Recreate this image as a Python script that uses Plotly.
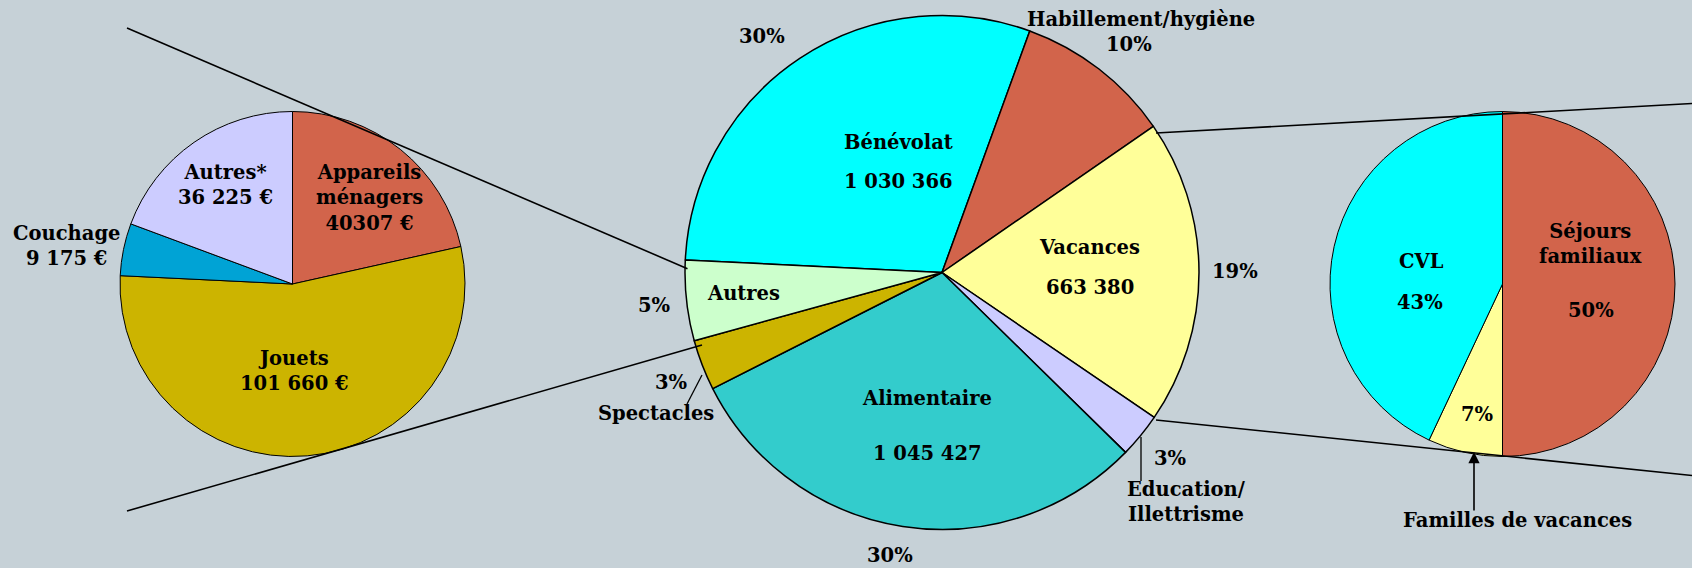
import plotly.graph_objects as go

W, H = 1692, 568
BG = "#C6D1D7"

# ---------------- data ----------------
left_names = ["Appareils<br>ménagers", "Jouets", "Couchage", "Autres*"]
left_values = [40307, 101660, 9175, 36225]
left_value_labels = ["40307 €", "101 660 €", "9 175 €", "36 225 €"]

center_names = ["Bénévolat", "Habillement/hygiène", "Vacances",
                "Education/<br>Illettrisme", "Alimentaire", "Spectacles", "Autres"]
center_values = [1030366, 340000, 663380, 97000, 1045427, 110000, 175000]
center_value_labels = ["1 030 366", "", "663 380", "", "1 045 427", "", ""]

right_names = ["Séjours<br>familiaux", "Familles de vacances", "CVL"]
right_values = [50, 7, 43]

# ---------------- styles / positions ----------------
RED = "#D2644B"
left_colors = [RED, "#CCB400", "#00A3D5", "#CCCCFF"]
center_colors = ["#00FFFF", RED, "#FFFF99", "#CCCCFF", "#33CCCC", "#CCB400", "#CCFFCC"]
right_colors = [RED, "#FFFF99", "#00FFFF"]

FONT = "DejaVu Serif"
FS = 19.5


def px(x):
    return x / W


def py(y):
    return 1 - y / H


def dom(cx, cy, r):
    return dict(x=[(cx - r) / W, (cx + r) / W], y=[1 - (cy + r) / H, 1 - (cy - r) / H])


fig = go.Figure()
fig.add_trace(go.Pie(labels=left_names, values=left_values, sort=False,
                     direction="clockwise", rotation=0, textinfo="none",
                     marker=dict(colors=left_colors, line=dict(color="black", width=1)),
                     domain=dom(292.5, 284, 172.5), hoverinfo="label+value"))
fig.add_trace(go.Pie(labels=center_names, values=center_values, sort=False,
                     direction="clockwise", rotation=-87.2, textinfo="none",
                     marker=dict(colors=center_colors, line=dict(color="black", width=1.5)),
                     domain=dom(942, 272.5, 257), hoverinfo="label+value"))
fig.add_trace(go.Pie(labels=right_names, values=right_values, sort=False,
                     direction="clockwise", rotation=0, textinfo="none",
                     marker=dict(colors=right_colors, line=dict(color="black", width=1)),
                     domain=dom(1502.5, 284, 172.5), hoverinfo="label+value"))

ann = []


def label(text, x, y, size=FS):
    ann.append(dict(text="<b>" + text + "</b>", x=px(x), y=py(y), xref="paper", yref="paper",
                    showarrow=False, xanchor="center", yanchor="middle",
                    font=dict(family=FONT, size=size, color="black")))


# left pie labels: name + value
left_pos = [(369, 198), (294, 371), (66, 245.5), (225, 185)]
for n, v, (x, y) in zip(left_names, left_value_labels, left_pos):
    label(n + "<br>" + v, x, y)

# center pie
total_c = sum(center_values)
center_pct = [f"{round(100 * v / total_c)}%" for v in center_values]
center_name_pos = [(899, 142), (1141, 20), (1089, 247), (1186, 502),
                   (927, 398), (656, 413), (743, 293)]
center_val_pos = [(899, 181), None, (1090, 287), None, (927, 453), None, None]
center_pct_pos = [(762, 36), (1129, 44), (1235, 271), (1170, 458),
                  (890, 555), (671, 382), (654, 306)]
for n, vl, pp, npos, vpos, ppos in zip(center_names, center_value_labels, center_pct,
                                       center_name_pos, center_val_pos, center_pct_pos):
    label(n, *npos)
    if vpos is not None:
        label(vl, *vpos)
    label(pp, *ppos)

# right pie
total_r = sum(right_values)
right_pct = [f"{round(100 * v / total_r)}%" for v in right_values]
right_name_pos = [(1590, 244), (1517, 520), (1421, 261)]
right_pct_pos = [(1591, 310), (1477, 414), (1420, 302)]
for n, pp, npos, ppos in zip(right_names, right_pct, right_name_pos, right_pct_pos):
    label(n, *npos)
    label(pp, *ppos)

# arrow to "Familles de vacances"
ann.append(dict(text="", x=px(1474), y=py(452), xref="paper", yref="paper",
                showarrow=True, ax=0, ay=60, arrowhead=2, arrowsize=1.4,
                arrowwidth=1.6, arrowcolor="black"))

shapes = []


def seg(x0, y0, x1, y1, w=1.6):
    shapes.append(dict(type="line", xref="paper", yref="paper",
                       x0=px(x0), y0=py(y0), x1=px(x1), y1=py(y1),
                       line=dict(color="black", width=w)))


seg(127, 28, 687.5, 268.7)
seg(127, 511, 702, 345)
seg(1156, 133, 1692, 103.5)
seg(1156, 420, 1692, 475.5)
seg(702, 375, 687, 404, 1.3)
seg(1141, 437, 1141, 481, 1.3)

fig.update_layout(width=W, height=H, margin=dict(l=0, r=0, t=0, b=0),
                  paper_bgcolor=BG, plot_bgcolor=BG, showlegend=False,
                  annotations=ann, shapes=shapes)

fig.write_html("out.html", config={"displayModeBar": False},
               post_script="document.body.style.margin='0';document.body.style.overflow='hidden';")
